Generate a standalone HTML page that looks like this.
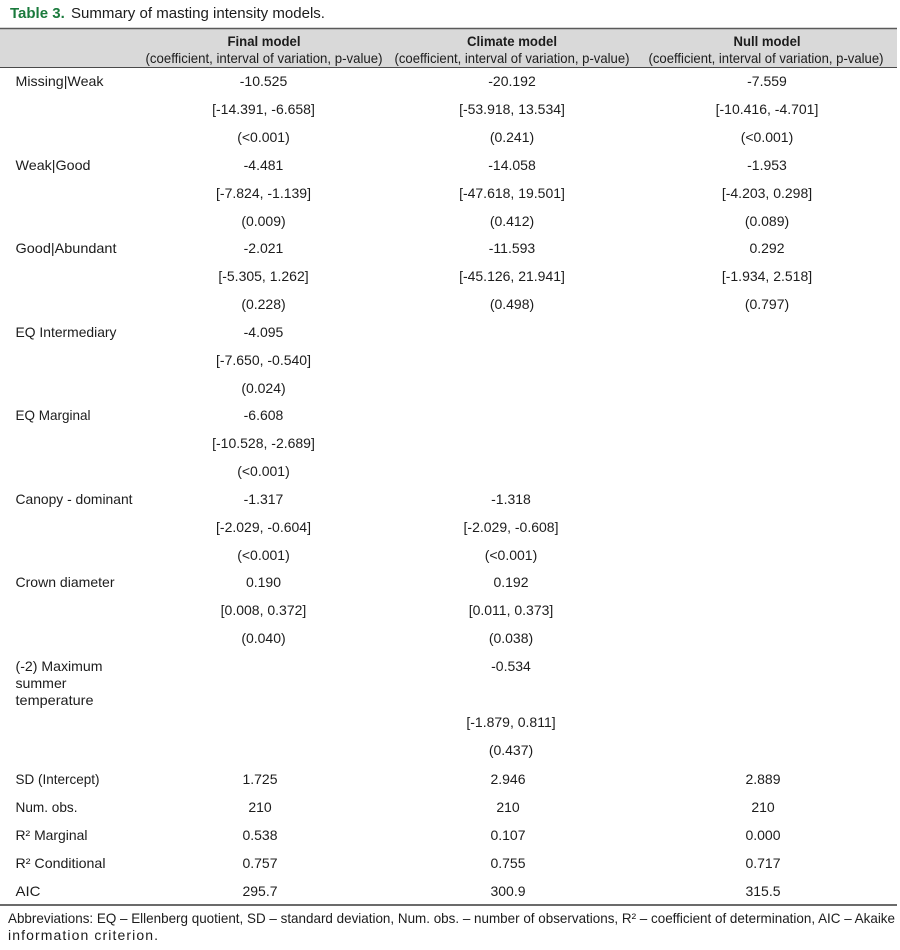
<!DOCTYPE html>
<html>
<head>
<meta charset="utf-8">
<style>
html,body{margin:0;padding:0;background:#fff;}
svg{display:block;}
text{font-family:"Liberation Sans",Arial,sans-serif;fill:#1c1c1c;font-size:14px;}
.c{text-anchor:middle;}
.b{font-weight:bold;}
</style>
</head>
<body>
<svg width="900" height="950" viewBox="0 0 900 950" xmlns="http://www.w3.org/2000/svg">
<rect x="0" y="0" width="900" height="950" fill="#fff"/>
<!-- Title -->
<text x="10" y="18" class="b" style="font-size:15px;fill:#1a7a3c">Table 3.</text>
<text x="71" y="18" style="font-size:15px" textLength="254" lengthAdjust="spacingAndGlyphs">Summary of masting intensity models.</text>

<!-- Header -->
<rect x="0" y="29" width="897" height="38.5" fill="#d9d9d9"/>
<line x1="0" y1="28.5" x2="897" y2="28.5" stroke="#5a5a5a" stroke-width="1.5"/>
<line x1="0" y1="67.5" x2="897" y2="67.5" stroke="#4a4a4a" stroke-width="1"/>

<text x="264" y="46" class="c b" textLength="73" lengthAdjust="spacingAndGlyphs">Final model</text>
<text x="512" y="46" class="c b" textLength="90" lengthAdjust="spacingAndGlyphs">Climate model</text>
<text x="767" y="46" class="c b" textLength="67" lengthAdjust="spacingAndGlyphs">Null model</text>
<text x="264" y="63" class="c" textLength="237" lengthAdjust="spacingAndGlyphs">(coefficient, interval of variation, p-value)</text>
<text x="512" y="63" class="c" textLength="235" lengthAdjust="spacingAndGlyphs">(coefficient, interval of variation, p-value)</text>
<text x="766" y="63" class="c" textLength="235" lengthAdjust="spacingAndGlyphs">(coefficient, interval of variation, p-value)</text>

<!-- Labels -->
<text x="15.5" y="86" textLength="88" lengthAdjust="spacingAndGlyphs">Missing|Weak</text>
<text x="15.5" y="170" textLength="75" lengthAdjust="spacingAndGlyphs">Weak|Good</text>
<text x="15.5" y="253" textLength="101" lengthAdjust="spacingAndGlyphs">Good|Abundant</text>
<text x="15.5" y="337" textLength="101" lengthAdjust="spacingAndGlyphs">EQ Intermediary</text>
<text x="15.5" y="420" textLength="75" lengthAdjust="spacingAndGlyphs">EQ Marginal</text>
<text x="15.5" y="504" textLength="117" lengthAdjust="spacingAndGlyphs">Canopy - dominant</text>
<text x="15.5" y="587" textLength="99" lengthAdjust="spacingAndGlyphs">Crown diameter</text>
<text x="15.5" y="671" textLength="87" lengthAdjust="spacingAndGlyphs">(-2) Maximum</text>
<text x="15.5" y="688" textLength="51" lengthAdjust="spacingAndGlyphs">summer</text>
<text x="15.5" y="705" textLength="78" lengthAdjust="spacingAndGlyphs">temperature</text>
<text x="15.5" y="784" textLength="84" lengthAdjust="spacingAndGlyphs">SD (Intercept)</text>
<text x="15.5" y="812" textLength="62" lengthAdjust="spacingAndGlyphs">Num. obs.</text>
<text x="15.5" y="840" textLength="72" lengthAdjust="spacingAndGlyphs">R² Marginal</text>
<text x="15.5" y="868" textLength="90" lengthAdjust="spacingAndGlyphs">R² Conditional</text>
<text x="15.5" y="896" textLength="25" lengthAdjust="spacingAndGlyphs">AIC</text>

<!-- Final model column -->
<text x="263.5" y="86" class="c">-10.525</text>
<text x="263.5" y="114" class="c">[-14.391, -6.658]</text>
<text x="263.5" y="142" class="c">(&lt;0.001)</text>
<text x="263.5" y="170" class="c">-4.481</text>
<text x="263.5" y="198" class="c">[-7.824, -1.139]</text>
<text x="263.5" y="226" class="c">(0.009)</text>
<text x="263.5" y="253" class="c">-2.021</text>
<text x="263.5" y="281" class="c">[-5.305, 1.262]</text>
<text x="263.5" y="309" class="c">(0.228)</text>
<text x="263.5" y="337" class="c">-4.095</text>
<text x="263.5" y="365" class="c">[-7.650, -0.540]</text>
<text x="263.5" y="393" class="c">(0.024)</text>
<text x="263.5" y="420" class="c">-6.608</text>
<text x="263.5" y="448" class="c">[-10.528, -2.689]</text>
<text x="263.5" y="476" class="c">(&lt;0.001)</text>
<text x="263.5" y="504" class="c">-1.317</text>
<text x="263.5" y="532" class="c">[-2.029, -0.604]</text>
<text x="263.5" y="560" class="c">(&lt;0.001)</text>
<text x="263.5" y="587" class="c">0.190</text>
<text x="263.5" y="615" class="c">[0.008, 0.372]</text>
<text x="263.5" y="643" class="c">(0.040)</text>
<text x="260" y="784" class="c">1.725</text>
<text x="260" y="812" class="c">210</text>
<text x="260" y="840" class="c">0.538</text>
<text x="260" y="868" class="c">0.757</text>
<text x="260" y="896" class="c">295.7</text>

<!-- Climate model column -->
<text x="512" y="86" class="c">-20.192</text>
<text x="512" y="114" class="c">[-53.918, 13.534]</text>
<text x="512" y="142" class="c">(0.241)</text>
<text x="512" y="170" class="c">-14.058</text>
<text x="512" y="198" class="c">[-47.618, 19.501]</text>
<text x="512" y="226" class="c">(0.412)</text>
<text x="512" y="253" class="c">-11.593</text>
<text x="512" y="281" class="c">[-45.126, 21.941]</text>
<text x="512" y="309" class="c">(0.498)</text>
<text x="511" y="504" class="c">-1.318</text>
<text x="511" y="532" class="c">[-2.029, -0.608]</text>
<text x="511" y="560" class="c">(&lt;0.001)</text>
<text x="511" y="587" class="c">0.192</text>
<text x="511" y="615" class="c">[0.011, 0.373]</text>
<text x="511" y="643" class="c">(0.038)</text>
<text x="511" y="671" class="c">-0.534</text>
<text x="511" y="727" class="c">[-1.879, 0.811]</text>
<text x="511" y="755" class="c">(0.437)</text>
<text x="508" y="784" class="c">2.946</text>
<text x="508" y="812" class="c">210</text>
<text x="508" y="840" class="c">0.107</text>
<text x="508" y="868" class="c">0.755</text>
<text x="508" y="896" class="c">300.9</text>

<!-- Null model column -->
<text x="767" y="86" class="c">-7.559</text>
<text x="767" y="114" class="c">[-10.416, -4.701]</text>
<text x="767" y="142" class="c">(&lt;0.001)</text>
<text x="767" y="170" class="c">-1.953</text>
<text x="767" y="198" class="c">[-4.203, 0.298]</text>
<text x="767" y="226" class="c">(0.089)</text>
<text x="767" y="253" class="c">0.292</text>
<text x="767" y="281" class="c">[-1.934, 2.518]</text>
<text x="767" y="309" class="c">(0.797)</text>
<text x="763" y="784" class="c">2.889</text>
<text x="763" y="812" class="c">210</text>
<text x="763" y="840" class="c">0.000</text>
<text x="763" y="868" class="c">0.717</text>
<text x="763" y="896" class="c">315.5</text>

<!-- Bottom rule -->
<line x1="0" y1="905" x2="897" y2="905" stroke="#3a3a3a" stroke-width="1.5"/>

<!-- Footnote -->
<text x="8" y="923" textLength="887" lengthAdjust="spacingAndGlyphs">Abbreviations: EQ – Ellenberg quotient, SD – standard deviation, Num. obs. – number of observations, R² – coefficient of determination, AIC – Akaike</text>
<text x="8" y="940" textLength="150" lengthAdjust="spacing">information criterion.</text>
</svg>
</body>
</html>
